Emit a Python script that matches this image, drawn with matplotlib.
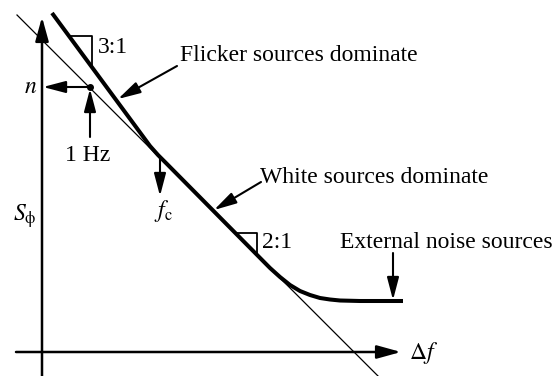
import matplotlib
matplotlib.use("Agg")
import matplotlib.pyplot as plt

plt.rcParams.update({"font.family": "Liberation Serif", "mathtext.fontset": "stix", "font.size": 17})

# schematic phase-noise spectrum, in picture pixel units (y grows downward)
thin_x = [17, 378]
thin_y = [15, 376]
curve_x = [52, 150, 158, 166, 270, 280, 290, 300, 310, 320, 330, 340, 360, 403]
curve_y = [13, 146, 155, 163, 268, 277, 285, 291, 295, 298, 299.5, 300.5, 301, 301]
tri31_x = [69, 92, 92]
tri31_y = [36, 36, 67]
tri21_x = [235, 257, 257]
tri21_y = [233, 233, 254]
dot_xy = (90, 87)

W, H = 558, 376
fig = plt.figure(figsize=(W / 100, H / 100), dpi=100)
ax = fig.add_axes([0, 0, 1, 1])
ax.set_xlim(0, W)
ax.set_ylim(H, 0)
ax.axis("off")


def arrow(x0, y0, x1, y1, lw=1.5, hl=1.37, hw=0.36):
    ax.annotate("", xy=(x1, y1), xytext=(x0, y0),
                arrowprops=dict(arrowstyle=f"-|>,head_length={hl},head_width={hw}",
                                lw=lw, color="k", shrinkA=0, shrinkB=0, mutation_scale=10))


# axes
arrow(42, 376, 42, 17, lw=1.8, hl=1.45, hw=0.4)
arrow(16, 352, 401, 352, lw=1.8, hl=1.45, hw=0.4)

ax.plot(thin_x, thin_y, color="k", lw=0.9)
ax.plot(curve_x, curve_y, color="k", lw=2.9, solid_capstyle="butt", solid_joinstyle="round")
ax.plot(tri31_x, tri31_y, color="k", lw=1.3)
ax.plot(tri21_x, tri21_y, color="k", lw=1.3)
ax.plot(*dot_xy, "o", color="k", ms=4)

arrow(90, 87, 43, 87)
arrow(90, 137, 90, 89)
arrow(177, 66, 118, 99)
arrow(160, 158, 160, 196)
arrow(261, 182, 214, 210)
arrow(393, 253, 393, 300)

ax.text(98, 53, "3:1", ha="left", va="baseline")
ax.text(262, 248, "2:1", ha="left", va="baseline")
ax.text(180, 61, "Flicker sources dominate", ha="left", va="baseline")
ax.text(260, 183, "White sources dominate", ha="left", va="baseline")
ax.text(340, 248, "External noise sources", ha="left", va="baseline")
ax.text(88, 161, "1 Hz", ha="center", va="baseline")
ax.text(31, 93, r"$n$", ha="center", va="baseline")
ax.text(163, 217, r"$f_{\mathrm{c}}$", ha="center", va="baseline")
ax.text(13, 221, r"$S_{\mathrm{ϕ}}$", ha="left", va="baseline")
ax.text(409, 359, r"$\Delta f$", ha="left", va="baseline")

fig.savefig("out.png", dpi=100)
